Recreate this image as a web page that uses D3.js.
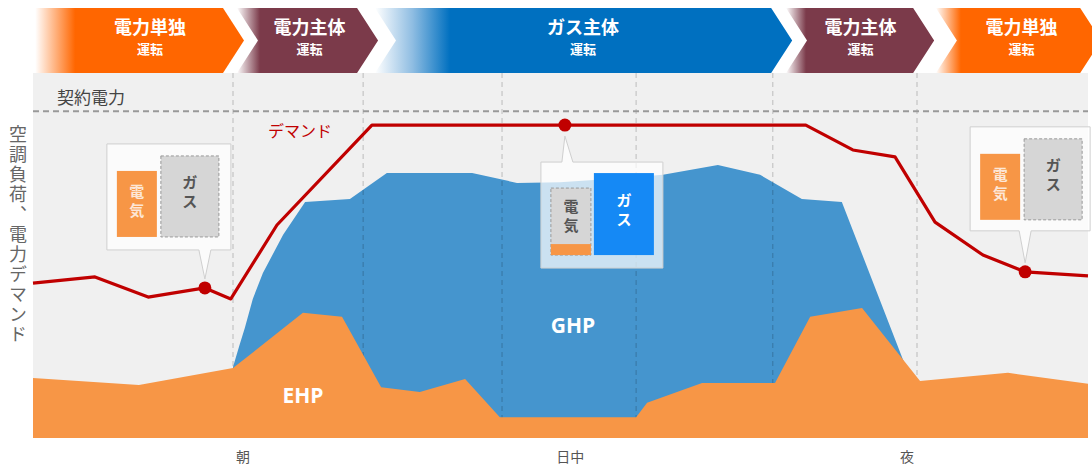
<!DOCTYPE html>
<html>
<head>
<meta charset="utf-8">
<script src="https://cdn.jsdelivr.net/npm/d3@7"></script>
<style>
  body { margin: 0; background: #fff; }
  svg { display: block; font-family: "Noto Sans CJK JP", "Noto Sans", sans-serif; }
</style>
</head>
<body>
<svg id="chart" width="1092" height="466"></svg>
<script>
// time of day in hours, load in % of the axis
const demandHours = [0, 1.41, 2.62, 3.91, 4.50, 5.55, 7.71, 17.58, 18.65, 19.61, 20.52, 21.61, 22.57, 24]
const demandValues = [42.3, 44.0, 38.5, 41.0, 38.0, 58.2, 85.5, 85.5, 78.7, 76.8, 59.0, 50.0, 45.4, 44.3]

const ehpHours = [0, 2.41, 4.55, 6.14, 7.03, 7.92, 8.80, 9.83, 10.62, 13.72, 13.97, 15.22, 16.88, 17.68, 18.86, 20.18, 22.18, 24]
const ehpValues = [16.4, 14.5, 19.1, 34.2, 33.1, 13.9, 12.6, 16.1, 5.7, 5.7, 9.6, 15.0, 15.0, 33.1, 35.5, 15.6, 17.8, 14.8]

// GHP is stacked on top of EHP, these are the totals
const ghpHours = [4.55, 4.70, 4.82, 5.00, 5.23, 5.69, 6.19, 7.21, 8.05, 9.99, 11.01, 11.99, 13.35, 14.33, 15.58, 16.54, 17.49, 18.40, 19.84]
const ghpValues = [19.4, 25.5, 30.1, 38.0, 45.1, 55.5, 64.5, 65.3, 72.4, 72.4, 69.7, 69.9, 71.0, 71.9, 74.6, 71.9, 65.3, 64.5, 19.9]

const contractValue = 89.3
const gridHours = [4.55, 7.51, 10.67, 13.72, 16.83, 20.11]
const markerHours = [3.91, 12.1, 22.57]

const periodLabels = ["朝", "日中", "夜"]
const periodHours = [4.78, 12.22, 19.88]

const phaseNames = ["電力単独", "電力主体", "ガス主体", "電力主体", "電力単独"]
const phaseStart = [0.05, 4.64, 7.78, 17.13, 20.54]
const phaseEnd = [4.80, 7.85, 17.27, 20.50, 24.3]
const phaseColors = ["#ff6600", "#7b3a4a", "#0070c0", "#7b3a4a", "#ff6600"]

const svg = d3.select("#chart")
const plotLeft = 33, plotRight = 1088, plotTop = 73, plotBottom = 438

const x = d3.scaleLinear().domain([0, 24]).range([plotLeft, plotRight])
const y = d3.scaleLinear().domain([0, 100]).range([plotBottom, 72])

const defs = svg.append("defs")

// plot background
svg.append("rect")
    .attr("x", plotLeft).attr("y", plotTop)
    .attr("width", plotRight - plotLeft).attr("height", plotBottom - plotTop)
    .attr("fill", "#f0f0f0")

// banner of operating modes
const bTop = 8, bBot = 73, bMid = (bTop + bBot) / 2, tip = 21
const fadeLen = [40, 23, 75, 20, 25]
phaseNames.forEach((name, i) => {
    let x0 = x(phaseStart[i]), x2 = x(phaseEnd[i]), x1 = x2 - tip
    let grad = defs.append("linearGradient")
        .attr("id", "fade" + i)
        .attr("gradientUnits", "userSpaceOnUse")
        .attr("x1", x0).attr("x2", x0 + fadeLen[i])
        .attr("y1", 0).attr("y2", 0)
    grad.append("stop").attr("offset", 0).attr("stop-color", "#fff")
    if (i === 2) grad.append("stop").attr("offset", 0.5).attr("stop-color", "#8fbde2")
    grad.append("stop").attr("offset", 1).attr("stop-color", phaseColors[i])

    let pts = i === 0
        ? [[x0, bTop], [x1, bTop], [x2, bMid], [x1, bBot], [x0, bBot]]
        : [[x0, bTop], [x1, bTop], [x2, bMid], [x1, bBot], [x0, bBot], [x0 + tip, bMid]]
    svg.append("polygon")
        .attr("points", pts.join(" "))
        .attr("fill", `url(#fade${i})`)

    let cx = i === 2 ? 583 : (x0 + fadeLen[i] + x1) / 2 + 1
    svg.append("text")
        .attr("x", cx).attr("y", 34)
        .attr("text-anchor", "middle")
        .attr("fill", "#fff").attr("font-weight", "bold").attr("font-size", 18)
        .text(name)
    svg.append("text")
        .attr("x", cx).attr("y", 54)
        .attr("text-anchor", "middle")
        .attr("fill", "#fff").attr("font-weight", "bold").attr("font-size", 13)
        .text("運転")
})

// GHP area (total), then grid, then EHP on top
const ghpArea = d3.area()
    .x(d => x(d[0])).y0(y(0)).y1(d => y(d[1]))
svg.append("path")
    .datum(d3.zip(ghpHours, ghpValues))
    .attr("d", ghpArea)
    .attr("fill", "#4595ce")

svg.selectAll("line.grid")
    .data(gridHours)
    .join("line")
    .attr("class", "grid")
    .attr("x1", d => x(d)).attr("x2", d => x(d))
    .attr("y1", plotTop).attr("y2", plotBottom)
    .attr("stroke", "rgba(0,0,0,0.22)")
    .attr("stroke-width", 1)
    .attr("stroke-dasharray", "5,4")

const ehpArea = d3.area()
    .x(d => x(d[0])).y0(y(0)).y1(d => y(d[1]))
svg.append("path")
    .datum(d3.zip(ehpHours, ehpValues))
    .attr("d", ehpArea)
    .attr("fill", "#f79646")

svg.append("text")
    .attr("x", 573).attr("y", 333)
    .attr("text-anchor", "middle")
    .attr("fill", "#fff").attr("font-weight", "bold").attr("font-size", 21)
    .attr("font-family", "'Open Sans', sans-serif")
    .text("GHP")
svg.append("text")
    .attr("x", 303).attr("y", 403)
    .attr("text-anchor", "middle")
    .attr("fill", "#fff").attr("font-weight", "bold").attr("font-size", 21)
    .attr("font-family", "'Open Sans', sans-serif")
    .text("EHP")

// contract power
svg.append("line")
    .attr("x1", plotLeft).attr("x2", plotRight)
    .attr("y1", y(contractValue)).attr("y2", y(contractValue))
    .attr("stroke", "#999").attr("stroke-width", 2)
    .attr("stroke-dasharray", "6,4")
svg.append("text")
    .attr("x", 57).attr("y", 104)
    .attr("fill", "#444").attr("font-size", 17)
    .text("契約電力")

// demand
svg.append("path")
    .datum(d3.zip(demandHours, demandValues))
    .attr("d", d3.line().x(d => x(d[0])).y(d => y(d[1])))
    .attr("fill", "none")
    .attr("stroke", "#c00000")
    .attr("stroke-width", 3.2)
    .attr("stroke-linejoin", "round")
svg.append("text")
    .attr("x", 268).attr("y", 137)
    .attr("fill", "#c00000").attr("font-size", 16)
    .text("デマンド")

function demandAt(h) {
    let i = d3.bisectRight(demandHours, h) - 1
    i = Math.max(0, Math.min(i, demandHours.length - 2))
    let t = (h - demandHours[i]) / (demandHours[i + 1] - demandHours[i])
    return demandValues[i] + t * (demandValues[i + 1] - demandValues[i])
}

// callouts: box offset from the marker, box size, which side the tail is on
const callouts = [
    { dx: -98, dy: -144, w: 124, h: 106, tailX: 0, below: false, kind: "elec" },
    { dx: -24, dy: 37, w: 122, h: 106, tailX: 2, below: true, kind: "gas" },
    { dx: -55, dy: -145, w: 120, h: 104, tailX: 0, below: false, kind: "elec" }
]

function vText(g, cx, cy, str, color) {
    let t = g.append("text")
        .attr("text-anchor", "middle")
        .attr("fill", color).attr("font-weight", "bold").attr("font-size", 15)
    str.split("").forEach((c, k) => {
        t.append("tspan").attr("x", cx).attr("y", cy + k * 19).text(c)
    })
}

markerHours.forEach((h, i) => {
    let mx = x(h), my = y(demandAt(h))
    let c = callouts[i]
    let bx = mx + c.dx, by = my + c.dy
    let g = svg.append("g")
    let tx = mx + c.tailX
    let outline
    if (c.below) {
        outline = [[bx, by], [tx - 5, by], [tx - 2, my + 11], [tx + 6, by], [bx + c.w, by], [bx + c.w, by + c.h], [bx, by + c.h]]
    } else {
        let byB = by + c.h
        outline = [[bx, by], [bx + c.w, by], [bx + c.w, byB], [tx + 6, byB], [tx, my - 9], [tx - 6, byB], [bx, byB]]
    }
    g.append("polygon")
        .attr("points", outline.join(" "))
        .attr("fill", "rgba(255,255,255,0.72)")
        .attr("stroke", "#cfcfcf").attr("stroke-width", 1)

    if (c.kind === "elec") {
        g.append("rect").attr("x", bx + 10).attr("y", by + 27).attr("width", 40).attr("height", 66)
            .attr("fill", "#f79646")
        vText(g, bx + 30, by + 53, "電気", "#fde6d6")
        g.append("rect").attr("x", bx + 54).attr("y", by + 12).attr("width", 58).attr("height", 81)
            .attr("fill", "#d6d6d6").attr("stroke", "#999").attr("stroke-dasharray", "3,2")
        vText(g, bx + 83, by + 44, "ガス", "#555")
    } else {
        g.append("rect").attr("x", bx + 10).attr("y", by + 26).attr("width", 40).attr("height", 67)
            .attr("fill", "#d6d6d6").attr("stroke", "#999").attr("stroke-dasharray", "3,2")
        g.append("rect").attr("x", bx + 10).attr("y", by + 82).attr("width", 40).attr("height", 11)
            .attr("fill", "#f79646")
        vText(g, bx + 30, by + 50, "電気", "#555")
        g.append("rect").attr("x", bx + 53).attr("y", by + 11).attr("width", 60).attr("height", 82)
            .attr("fill", "#1589f5")
        vText(g, bx + 83, by + 44, "ガス", "#fff")
    }
})

svg.selectAll("circle.marker")
    .data(markerHours)
    .join("circle")
    .attr("class", "marker")
    .attr("cx", d => x(d)).attr("cy", d => y(demandAt(d)))
    .attr("r", 6.5)
    .attr("fill", "#c00000")

// axis labels
svg.selectAll("text.period")
    .data(periodLabels)
    .join("text")
    .attr("class", "period")
    .attr("x", (d, i) => x(periodHours[i])).attr("y", 462)
    .attr("text-anchor", "middle")
    .attr("fill", "#555").attr("font-size", 14)
    .text(d => d)

svg.append("text")
    .attr("x", 18).attr("y", 125)
    .attr("writing-mode", "vertical-rl")
    .attr("fill", "#666").attr("font-size", 18)
    .attr("letter-spacing", 2)
    .text("空調負荷、電力デマンド")
</script>
</body>
</html>
